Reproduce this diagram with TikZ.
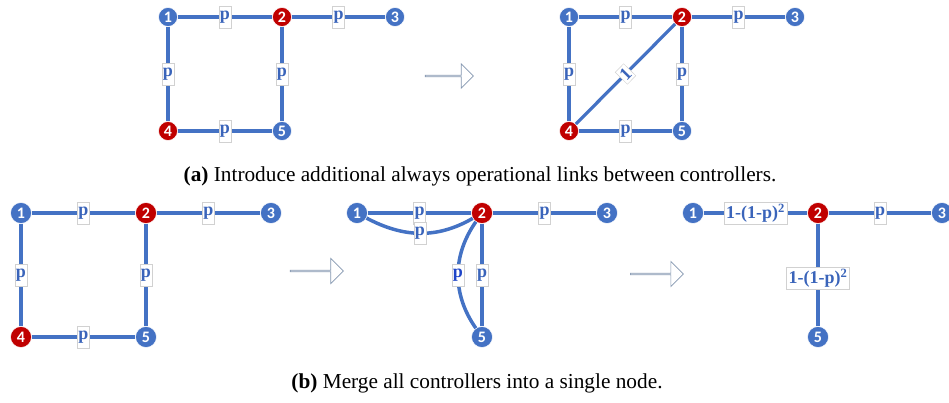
\documentclass[tikz,border=0pt]{standalone}
\usepackage{fontspec}
\setmainfont{Liberation Serif}
\newfontfamily\numfont{Carlito}
\usetikzlibrary{shapes.arrows}
\definecolor{nblue}{HTML}{4472C4}
\definecolor{nred}{HTML}{C00000}
\definecolor{lblue}{HTML}{3A64BA}
\definecolor{dblue}{HTML}{1F45C8}
\definecolor{agray}{HTML}{8497B0}
\begin{document}
\begin{tikzpicture}[x=1pt,y=-1pt,
  vtx/.style={circle, fill=nblue, draw=white, line width=0.5, text=white,
    font=\numfont\bfseries\fontsize{16}{16}\selectfont, inner sep=0, minimum size=19},
  ctl/.style={vtx, fill=nred},
  bigv/.style={minimum size=21},
  lnk/.style={draw=nblue, line width=3.2},
  blnk/.style={draw=nblue, line width=3.5},
  lbl/.style={fill=white, draw=black!18, line width=0.4, text=lblue,
    font=\bfseries\fontsize{18}{18}\selectfont, inner sep=1, minimum height=22, minimum width=11},
  hollow/.style={single arrow, draw=agray, fill=white, line width=0.7,
    minimum height=48, minimum width=24, single arrow head extend=6, inner sep=0},
  captxt/.style={font=\fontsize{21.3}{21.3}\selectfont}
]
\useasboundingbox (0,0) rectangle (949,403);

% ---------- (a) left ----------
\node[vtx] (a1) at (168,17) {1};
\node[ctl] (a2) at (282,17) {2};
\node[vtx] (a3) at (395,17) {3};
\node[ctl] (a4) at (168,131) {4};
\node[vtx] (a5) at (282,131) {5};
\draw[lnk] (a1) -- node[lbl] {p} (a2);
\draw[lnk] (a2) -- node[lbl] {p} (a3);
\draw[lnk] (a1) -- node[lbl] {p} (a4);
\draw[lnk] (a2) -- node[lbl] {p} (a5);
\draw[lnk] (a4) -- node[lbl] {p} (a5);

\node[hollow] (arA) at (449,76) {};

% ---------- (a) right ----------
\node[vtx] (b1) at (569,17) {1};
\node[ctl] (b2) at (682,17) {2};
\node[vtx] (b3) at (795,17) {3};
\node[ctl] (b4) at (569,131) {4};
\node[vtx] (b5) at (682,131) {5};
\draw[lnk] (b1) -- node[lbl] {p} (b2);
\draw[lnk] (b2) -- node[lbl] {p} (b3);
\draw[lnk] (b1) -- node[lbl] {p} (b4);
\draw[lnk] (b2) -- node[lbl] {p} (b5);
\draw[lnk] (b4) -- node[lbl] {p} (b5);
\draw[lnk] (b4) -- node[lbl, sloped, minimum height=17, minimum width=12] {1} (b2);

\node[captxt] (capa) at (480,176) {\textbf{(a)} Introduce additional always operational links between controllers.};

% ---------- (b) left ----------
\node[vtx,bigv] (c1) at (21,213) {1};
\node[ctl,bigv] (c2) at (146,213) {2};
\node[vtx,bigv] (c3) at (271,213) {3};
\node[ctl,bigv] (c4) at (21,337) {4};
\node[vtx,bigv] (c5) at (146,337) {5};
\draw[blnk] (c1) -- node[lbl] {p} (c2);
\draw[blnk] (c2) -- node[lbl] {p} (c3);
\draw[blnk] (c1) -- node[lbl] {p} (c4);
\draw[blnk] (c2) -- node[lbl] {p} (c5);
\draw[blnk] (c4) -- node[lbl] {p} (c5);

\node[hollow, minimum height=53, minimum width=25] (arB) at (316.5,271) {};

% ---------- (b) middle ----------
\node[vtx,bigv] (d1) at (357,213) {1};
\node[ctl,bigv] (d2) at (482,213) {2};
\node[vtx,bigv] (d3) at (607,213) {3};
\node[vtx,bigv] (d5) at (482,337) {5};
\draw[blnk] (d1) -- node[lbl] {p} (d2);
\draw[blnk] (d1) to[out=-28, in=-150] node[lbl, pos=0.5] {p} (d2);
\draw[blnk] (d2) -- node[lbl] {p} (d3);
\draw[blnk] (d2) -- node[lbl] {p} (d5);
\draw[blnk] (d2) to[out=-125, in=125] node[lbl, text=dblue, pos=0.5] {p} (d5);

\node[hollow, minimum height=53, minimum width=25] (arC) at (656.5,274) {};

% ---------- (b) right ----------
\node[vtx,bigv] (e1) at (693,213) {1};
\node[ctl,bigv] (e2) at (818,213) {2};
\node[vtx,bigv] (e3) at (942,213) {3};
\node[vtx,bigv] (e5) at (818,337) {5};
\draw[blnk] (e1) -- node[lbl, inner sep=2] {1-(1-p)\textsuperscript{2}} (e2);
\draw[blnk] (e2) -- node[lbl] {p} (e3);
\draw[blnk] (e2) -- node[lbl, inner sep=2, yshift=-3] {1-(1-p)\textsuperscript{2}} (e5);

\node[captxt] (capb) at (477,383) {\textbf{(b)} Merge all controllers into a single node.};
\end{tikzpicture}
\end{document}
